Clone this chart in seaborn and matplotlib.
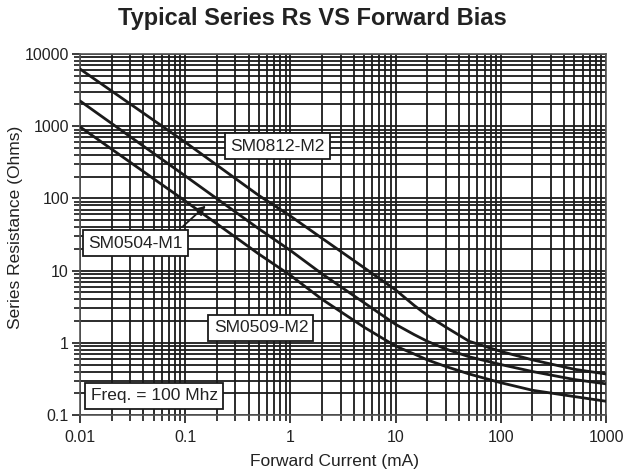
import numpy as np
import pandas as pd
import matplotlib
matplotlib.use("Agg")
import matplotlib.pyplot as plt
import seaborn as sns
from matplotlib.ticker import LogLocator, FuncFormatter, NullFormatter

# forward current (mA) and series resistance (Ohms)
current = [0.01, 0.1, 0.5, 1, 2, 5, 10, 15, 20, 30, 50, 100, 200, 500, 1000]
rs_sm0812 = [6200, 600, 110, 57, 28, 11, 5.4, 3.3, 2.4, 1.65, 1.05, 0.76, 0.58, 0.43, 0.37]
rs_mid = [2240, 205, 38, 19, 9, 3.6, 1.8, 1.3, 1.05, 0.82, 0.64, 0.5, 0.4, 0.31, 0.27]
rs_low = [980, 92, 17, 8.6, 4.0, 1.65, 0.9, 0.7, 0.58, 0.47, 0.37, 0.28, 0.22, 0.18, 0.155]
series = ["SM0812-M2", "SM0504-M1", "SM0509-M2"]

df = pd.DataFrame({
    "current": current * 3,
    "rs": rs_sm0812 + rs_mid + rs_low,
    "part": [s for s in series for _ in current],
})

sns.set_style("white")
plt.rcParams["font.family"] = ["Liberation Sans", "DejaVu Sans"]

fig = plt.figure(figsize=(6.25, 4.74), dpi=100)
ax = fig.add_axes([80 / 625, 59 / 474, 526 / 625, 361 / 474])

ax.set_xscale("log")
ax.set_yscale("log")
ax.set_xlim(0.01, 1000)
ax.set_ylim(0.1, 10000)

ax.xaxis.set_major_locator(LogLocator(base=10, numticks=20))
ax.xaxis.set_minor_locator(LogLocator(base=10, subs=np.arange(2, 10), numticks=20))
ax.yaxis.set_major_locator(LogLocator(base=10, numticks=20))
ax.yaxis.set_minor_locator(LogLocator(base=10, subs=np.arange(2, 10), numticks=20))
ax.grid(which="both", color="#1a1a1a", lw=1.3)
ax.set_axisbelow(True)

sns.lineplot(data=df, x="current", y="rs", units="part", estimator=None,
             color="#1a1a1a", lw=2, ax=ax, legend=False, zorder=3)

fmt = FuncFormatter(lambda v, p: f"{v:g}")
ax.xaxis.set_major_formatter(fmt)
ax.yaxis.set_major_formatter(fmt)
ax.xaxis.set_minor_formatter(NullFormatter())
ax.yaxis.set_minor_formatter(NullFormatter())
ax.tick_params(which="major", direction="out", length=6, width=1.2, color="#1a1a1a",
               labelsize=11.5, labelcolor="#222222")
ax.tick_params(which="minor", direction="out", length=4, width=1.2, color="#1a1a1a")
ax.tick_params(axis="x", which="major", pad=5)
ax.tick_params(axis="y", which="major", pad=2)
ax.tick_params(left=True, bottom=True, which="both")

for s in ax.spines.values():
    s.set_color("#555555")
    s.set_linewidth(1.2)

ax.set_xlabel("Forward Current (mA)", fontsize=12.5, color="#222222")
ax.set_ylabel("Series Resistance (Ohms)", fontsize=12.5, color="#222222")
ax.xaxis.set_label_coords(0.483, -0.108)
ax.yaxis.set_label_coords(-0.108, 0.52)

box = dict(boxstyle="square,pad=0.3", fc="white", ec="#1a1a1a", lw=1.3)
ax.text(0.376, 0.745, "SM0812-M2", transform=ax.transAxes, ha="center", va="center",
        fontsize=12.5, color="#222222", bbox=box, zorder=5)
ax.text(0.105, 0.476, "SM0504-M1", transform=ax.transAxes, ha="center", va="center",
        fontsize=12.5, color="#222222", bbox=box, zorder=5)
ax.text(0.344, 0.241, "SM0509-M2", transform=ax.transAxes, ha="center", va="center",
        fontsize=12.5, color="#222222", bbox=box, zorder=5)
ax.text(0.141, 0.053, "Freq. = 100 Mhz", transform=ax.transAxes, ha="center", va="center",
        fontsize=12.5, color="#222222", bbox=box, zorder=5)
ax.annotate("", xy=(0.243, 0.585), xytext=(0.19, 0.515), xycoords="axes fraction",
            arrowprops=dict(arrowstyle="-|>", color="#1a1a1a", lw=1.3, mutation_scale=14),
            zorder=6)

fig.text(0.5, 1 - 19 / 474, "Typical Series Rs VS Forward Bias", ha="center", va="center",
         fontsize=17, fontweight="bold", color="#222222")

fig.savefig("out.png", dpi=100)
